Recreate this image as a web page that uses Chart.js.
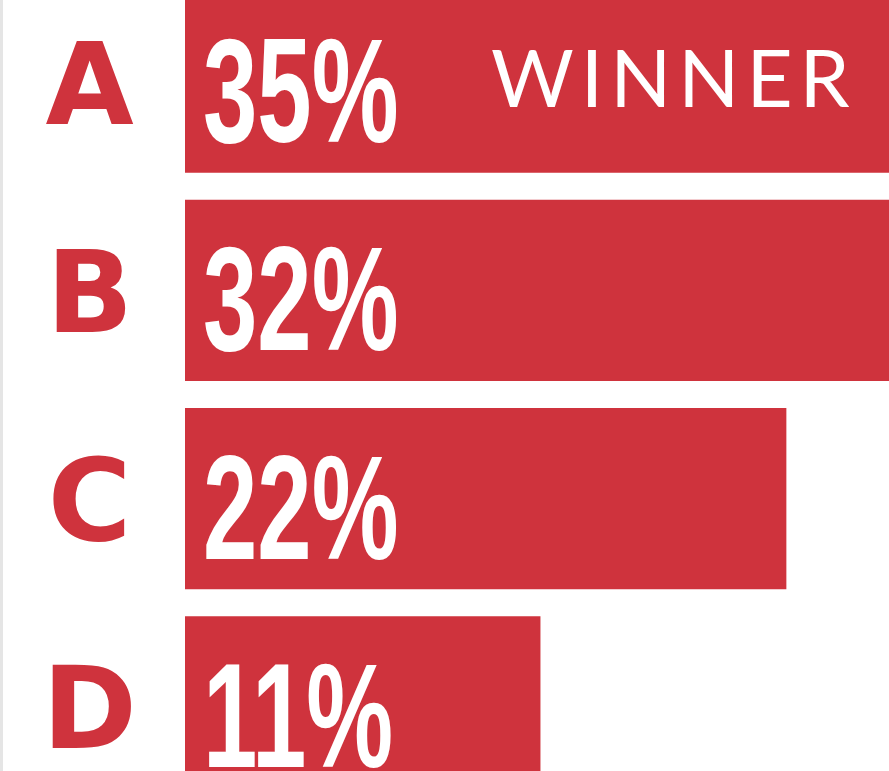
<!DOCTYPE html>
<html>
<head>
<meta charset="utf-8">
<script src="https://cdn.jsdelivr.net/npm/chart.js@4/dist/chart.umd.min.js"></script>
<style>
  html, body { margin: 0; padding: 0; background: #fff; overflow: hidden; width: 889px; height: 771px; }
  #strip { position: absolute; left: 0; top: 0; width: 3px; height: 771px; background: #e5e5e5; z-index: 2; }
  #wrap { position: absolute; left: 0; top: -22px; width: 1191px; height: 833px; }
</style>
</head>
<body>
<div id="strip"></div>
<div id="wrap"><canvas id="poll"></canvas></div>
<script>
const candidates = ['A', 'B', 'C', 'D']
const shares = [35, 32, 22, 11]
const axisMin = -4.9
const axisMax = 40.1

const red = '#cf333d'

// value labels + winner tag on the bars
const barText = {
  id: 'barText',
  afterDatasetsDraw(chart) {
    const ctx = chart.ctx
    const bars = chart.getDatasetMeta(0).data
    const top = Math.max(...shares)
    ctx.save()
    ctx.fillStyle = '#fff'
    ctx.textBaseline = 'alphabetic'
    bars.forEach((bar, i) => {
      const x = bar.base + 18
      const y = bar.y + 60
      ctx.save()
      ctx.translate(x, y)
      ctx.scale(0.66, 1)
      ctx.textAlign = 'left'
      ctx.font = 'bold 148px "Liberation Sans"'
      ctx.fillText(shares[i] + '%', 0, 0)
      ctx.restore()
      if (shares[i] === top) {
        ctx.font = '400 80px Lato'
        ctx.letterSpacing = '7px'
        ctx.textAlign = 'left'
        ctx.fillText('WINNER', bar.base + 306, bar.y + 25)
        ctx.letterSpacing = '0px'
      }
    })
    ctx.restore()
  }
}

const chart = new Chart(document.getElementById('poll'), {
  type: 'bar',
  data: {
    labels: candidates,
    datasets: [{
      data: shares,
      base: axisMin,
      backgroundColor: red,
      borderWidth: 0,
      categoryPercentage: 1,
      barPercentage: 0.87
    }]
  },
  options: {
    indexAxis: 'y',
    responsive: true,
    maintainAspectRatio: false,
    animation: false,
    layout: { padding: 0 },
    plugins: {
      legend: { display: false },
      tooltip: { enabled: false }
    },
    scales: {
      x: {
        display: false,
        min: axisMin,
        max: axisMax
      },
      y: {
        afterFit: (s) => {
          s.width = 185
          s.paddingTop = 0
          s.paddingBottom = 0
        },
        grid: { display: false, drawTicks: false },
        border: { display: false },
        ticks: {
          color: red,
          crossAlign: 'center',
          padding: 48,
          labelOffset: 12,
          font: { family: 'DejaVu Sans', weight: 'bold', size: 114 }
        }
      }
    }
  },
  plugins: [barText]
})
</script>
</body>
</html>
